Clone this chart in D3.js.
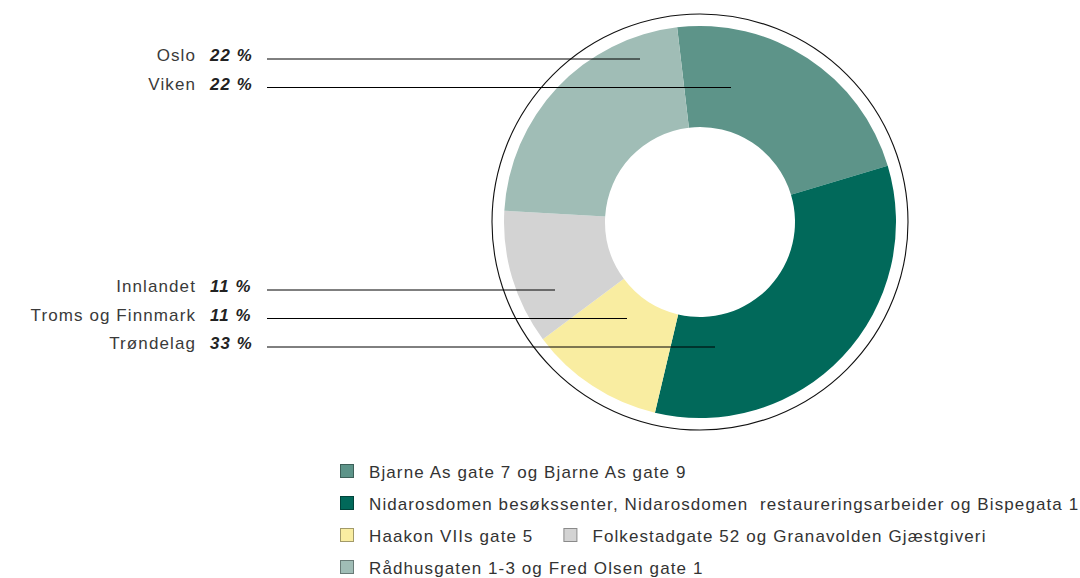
<!DOCTYPE html>
<html>
<head>
<meta charset="utf-8">
<script src="https://cdn.jsdelivr.net/npm/d3@7"></script>
<style>
  body { margin: 0; background: #fff; }
  svg { display: block; }
  text { font-family: "Liberation Sans", Arial, sans-serif; letter-spacing: 1.1px; white-space: pre; }
</style>
</head>
<body>
<div id="chart"></div>
<script>

// slices of the donut, clockwise from the top
const buildings = [
    "Bjarne As gate 7 og Bjarne As gate 9",
    "Nidarosdomen besøkssenter, Nidarosdomen  restaureringsarbeider og Bispegata 1",
    "Haakon VIIs gate 5",
    "Folkestadgate 52 og Granavolden Gjæstgiveri",
    "Rådhusgaten 1-3 og Fred Olsen gate 1"
];
const buildingShare = [22, 33, 11, 11, 22];
const buildingColors = ["#5d9489", "#01695a", "#f9eda1", "#d3d3d3", "#a0bdb6"];

// region labels on the left and the slice each one points into
const regions = ["Oslo", "Viken", "Innlandet", "Troms og Finnmark", "Trøndelag"];
const regionShare = [22, 22, 11, 11, 33];
const regionSlice = [4, 0, 3, 2, 1];

// legend rows (indexes into buildings)
const legendRows = [[0], [1], [2, 3], [4]];

const width = 1080, height = 578;
const cx = 700, cy = 222;
const outerR = 196, innerR = 95, ringR = 208;

// layout for the label column
const labelRight = 196, pctLeft = 210, lineStart = 267;
const labelY = [59, 87.5, 290, 318.5, 347];
const leaderReach = [-60, 31, -145, -73, 15];   // end of each leader, relative to centre

const svg = d3.select('#chart').append('svg')
    .attr('width', width)
    .attr('height', height);

const pie = d3.pie()
    .sort(null)
    .startAngle(-0.117)
    .endAngle(2 * Math.PI - 0.117);

const arc = d3.arc()
    .innerRadius(innerR)
    .outerRadius(outerR);

const donut = svg.append('g')
    .attr('transform', `translate(${cx},${cy})`);

donut.selectAll('path')
    .data(pie(buildingShare))
    .join('path')
    .attr('d', arc)
    .attr('fill', (d, i) => buildingColors[i]);

donut.append('circle')
    .attr('r', ringR)
    .attr('fill', 'none')
    .attr('stroke', '#111')
    .attr('stroke-width', 1.1);

// region labels with leader lines
const labels = svg.append('g');

regions.forEach((name, i) => {
    const y = labelY[i];
    labels.append('line')
        .attr('x1', lineStart)
        .attr('x2', cx + leaderReach[i])
        .attr('y1', y)
        .attr('y2', y)
        .attr('stroke', '#000')
        .attr('stroke-width', 1);

    labels.append('text')
        .attr('x', labelRight)
        .attr('y', Math.round(y) + 1.5)
        .attr('text-anchor', 'end')
        .attr('font-size', 17)
        .attr('fill', '#3a3a3a')
        .text(name);

    labels.append('text')
        .attr('x', pctLeft)
        .attr('y', Math.round(y) + 1.5)
        .attr('font-size', 16.8)
        .attr('font-weight', 'bold')
        .attr('font-style', 'italic')
        .attr('fill', '#222')
        .text(regionShare[i] + ' %');
});

// legend
const legend = svg.append('g');
const legendX = 340, legendY = 478, rowStep = 32, box = 13;

legendRows.forEach((row, r) => {
    let x = legendX;
    const base = legendY + r * rowStep;
    row.forEach(idx => {
        legend.append('rect')
            .attr('x', x + 0.5)
            .attr('y', base - 13.5)
            .attr('width', box)
            .attr('height', box)
            .attr('fill', buildingColors[idx])
            .attr('stroke', d3.color(buildingColors[idx]).darker(1.2))
            .attr('stroke-width', 1);

        const t = legend.append('text')
            .attr('x', x + 29)
            .attr('y', base)
            .attr('font-size', 17)
            .attr('fill', '#333')
            .text(buildings[idx]);

        x += 29 + t.node().getComputedTextLength() + 30;
    });
});

</script>
</body>
</html>
